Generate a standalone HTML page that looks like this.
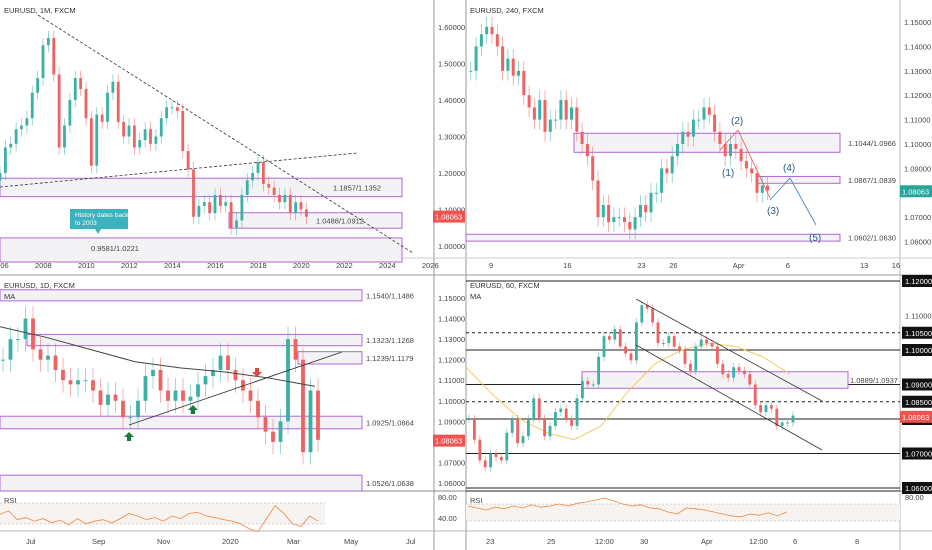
<!DOCTYPE html>
<html><head><meta charset="utf-8"><style>
body{margin:0;background:#fff;}
svg{display:block;font-family:"Liberation Sans",sans-serif;}
text{font-size:7.5px;fill:#444;}
</style></head><body>
<svg id="c" width="932" height="550" viewBox="0 0 932 550">
<rect width="932" height="550" fill="#fff"/>
<g id="frame">
<line x1="0" y1="275" x2="932" y2="275" stroke="#999" stroke-width="1"/>
<line x1="434" y1="0" x2="434" y2="550" stroke="#999"/>
<line x1="466" y1="0" x2="466" y2="550" stroke="#999"/>
<line x1="900" y1="0" x2="900" y2="550" stroke="#bbb"/>
<line x1="0" y1="258" x2="932" y2="258" stroke="#ccc"/>
<line x1="0" y1="491" x2="932" y2="491" stroke="#888"/>
<line x1="0" y1="531" x2="932" y2="531" stroke="#bbb"/>
</g>
<g id="g"></g>
</svg>
<script>
// ---------- data ----------
const tlYears=[2006,2008,2010,2012,2014,2016,2018,2020,2022,2024,2026];
const tlTicks=[1.6,1.5,1.4,1.3,1.2,1.1,1.0];
const tlCloses=[1.18,1.20,1.27,1.28,1.32,1.33,1.35,1.42,1.46,1.55,1.57,1.47,1.27,1.33,1.40,1.46,1.43,1.35,1.22,1.36,1.34,1.42,1.45,1.34,1.30,1.33,1.27,1.29,1.32,1.28,1.30,1.35,1.38,1.38,1.37,1.26,1.21,1.08,1.11,1.12,1.09,1.14,1.11,1.12,1.05,1.07,1.14,1.18,1.20,1.23,1.17,1.16,1.14,1.12,1.14,1.09,1.12,1.10,1.08];
const trDays=[9,16,23,26,32,37,44,47];
const trDayLabels=["9","16","23","26","Apr","6","13","16"];
const trTicks=[1.15,1.14,1.13,1.12,1.11,1.10,1.09,1.08,1.07,1.06];
const trCloses=[1.13,1.14,1.145,1.148,1.145,1.14,1.13,1.135,1.128,1.13,1.12,1.115,1.11,1.118,1.105,1.11,1.11,1.118,1.11,1.115,1.105,1.10,1.095,1.085,1.07,1.075,1.068,1.07,1.07,1.068,1.065,1.07,1.075,1.072,1.08,1.08,1.09,1.088,1.095,1.10,1.105,1.103,1.11,1.11,1.115,1.112,1.105,1.10,1.095,1.10,1.098,1.093,1.09,1.088,1.08,1.083,1.081];
const blMonthX=[32,98,163,228,293,350,412];
const blMonths=["Jul","Sep","Nov","2020","Mar","May","Jul"];
const blTicks=[1.15,1.14,1.13,1.12,1.11,1.10,1.09,1.07,1.06];
const blCloses=[1.12,1.13,1.13,1.14,1.125,1.12,1.122,1.115,1.11,1.108,1.11,1.11,1.105,1.098,1.103,1.10,1.092,1.092,1.10,1.112,1.115,1.105,1.10,1.105,1.10,1.102,1.108,1.112,1.115,1.122,1.115,1.11,1.105,1.10,1.092,1.085,1.08,1.09,1.13,1.12,1.075,1.105,1.081];
const blMA=[1.136,1.131,1.125,1.119,1.116,1.114,1.111,1.107];
const blRsi=[58,65,48,52,45,50,42,47,38,50,40,45,48,42,50,60,55,48,52,45,55,50,60,62,55,52,48,45,40,30,25,50,75,60,40,35,55,45];
const brLabels=["23","25","12:00","30","Apr","12:00","6","8"];
const brLabelX=[491,552,600,645,706,754,798,860];
const brTicks=[1.11];
const brLevels=[1.12,1.10,1.09,1.08,1.07,1.06];
const brDashed=[1.105,1.085];
const brCloses=[1.080,1.074,1.068,1.066,1.070,1.069,1.068,1.076,1.080,1.073,1.075,1.080,1.086,1.080,1.075,1.078,1.082,1.083,1.080,1.078,1.086,1.091,1.090,1.090,1.098,1.104,1.103,1.106,1.101,1.099,1.097,1.108,1.113,1.112,1.108,1.102,1.102,1.104,1.101,1.100,1.096,1.094,1.101,1.103,1.102,1.101,1.096,1.093,1.092,1.095,1.094,1.093,1.090,1.084,1.082,1.084,1.083,1.078,1.079,1.079,1.081];
const brMA=[1.095,1.087,1.080,1.076,1.074,1.078,1.088,1.096,1.100,1.102,1.101,1.098,1.093];
const brRsi=[55,50,45,52,48,55,50,58,52,55,60,55,62,65,70,75,68,60,55,58,50,48,40,35,50,48,45,40,35,30,28,35,32,38,30,40];

// ---------- helpers ----------
const NS="http://www.w3.org/2000/svg";
const G=document.getElementById('g');
function el(t,a,p){const e=document.createElementNS(NS,t);for(const k in a)e.setAttribute(k,a[k]);(p||G).appendChild(e);return e;}
function txt(x,y,s,a){const e=el('text',Object.assign({x:x,y:y},a||{}));e.textContent=s;return e;}
function candles(name,closes,xf,yf,w,wick){
  const g=el('g',{});
  
  
  let prev=closes[0];
  closes.forEach((c,i)=>{
    const o=prev,x=xf(i),up=c>=o,col=up?'#3cb0a4':'#ee6262';
    const hi=Math.max(o,c)+wick,lo=Math.min(o,c)-wick;
    const l=el('line',{x1:x,x2:x,y1:yf(hi),y2:yf(lo),stroke:col,'stroke-width':0.7,'stroke-opacity':0.7},g);
    
    
    const y1=yf(Math.max(o,c)),y2=yf(Math.min(o,c));
    const r=el('rect',{x:x-w/2,y:y1,width:w,height:Math.max(1,y2-y1),fill:col},g);
    
    
    prev=c;
  });
}
function poly(name,vals,xf,yf,stroke,sw,dash){
  const p=el('polyline',{points:vals.map((v,i)=>xf(i)+','+yf(v)).join(' '),fill:'none',stroke:stroke,'stroke-width':sw||1});
  if(dash)p.setAttribute('stroke-dasharray',dash);
  
  
}
function box(name,x,y1,x2,y2,label,lx){
  const r=el('rect',{x:x,y:Math.min(y1,y2),width:x2-x,height:Math.abs(y2-y1),fill:'#f3f3f6',stroke:'#b266d6','stroke-width':1});
  
  
  if(label){const t=txt(lx,(y1+y2)/2+3,label);}
}
function tag(y,s,bg,x){
  const r=el('rect',{x:x,y:y-6,width:32,height:12,fill:bg});
  
  
  const t=txt(x+2,y+3,s,{style:'fill:#fff;font-size:7.5px'});
  
  
}
function line(name,x1,y1,x2,y2,stroke,sw,dash){
  const l=el('line',{x1:x1,y1:y1,x2:x2,y2:y2,stroke:stroke,'stroke-width':sw||1});
  if(dash)l.setAttribute('stroke-dasharray',dash);
  
  
}

// ---------- TL monthly ----------
const tlY=p=>27+(1.6-p)*365;
const tlXyr=yr=>43+(yr-2008)*21.5;
box('zone-1185',0,tlY(1.1857),402,tlY(1.1352),'1.1857/1.1352',333);
box('zone-1049',229,tlY(1.0912),402,tlY(1.0488),'1.0488/1.0912',316);
box('zone-0958',0,tlY(1.0221),402,262,null);
txt(91,251,'0.9581/1.0221');
candles('tl-candles',tlCloses,i=>tlXyr(2005.75+i*0.25),tlY,2.8,0.02);
line('tl-downtrend',38,15,413,253,'#333',0.8,'3,2');
line('tl-uptrend',0,187,357,153,'#333',0.8,'3,2');
tlYears.forEach(y=>{const t=txt(tlXyr(y)-8,268,String(y));});
tlTicks.forEach(p=>{const t=txt(438,tlY(p)+3,p.toFixed(5));});
tag(tlY(1.08063),'1.08063','#ef5350',433);
{const c=el('path',{d:'M70,209 h58 v20 h-27 l-3,5 l-3,-5 h-25 z',fill:'#3bb3bd'});
txt(75,217,'History dates back',{style:'fill:#fff;font-size:6.5px'});txt(75,225,'to 2003',{style:'fill:#fff;font-size:6.5px'});}
txt(4,13,'EURUSD, 1M, FXCM',{style:'font-size:7.5px;fill:#333'});

// ---------- TR 240 ----------
const trY=p=>22+(1.15-p)*2440;
const trX=d=>492+(d-9)*10.6;
box('zone-1104',574,trY(1.1044),840,trY(1.0966),'1.1044/1.0966',848);
box('zone-1087',757,trY(1.0867),840,trY(1.0839),'1.0867/1.0839',848);
box('zone-1060',466,trY(1.0630),840,trY(1.0602),'1.0602/1.0630',848);
candles('tr-candles',trCloses,i=>trX(7+i*0.5),trY,3,0.004);
line('wave-red-1',720,150,738,130,'#ef5350',0.8);
line('wave-red-2',738,130,770,198,'#ef5350',0.8);
line('wave-blue-1',770,200,790,178,'#3a7fc1',0.8);
line('wave-blue-2',790,178,816,225,'#3a7fc1',0.8);
[['(2)',731,124],['(1)',722,176],['(3)',767,214],['(4)',783,171],['(5)',809,241]].forEach(a=>{const t=txt(a[1],a[2],a[0],{style:'font-size:10px;fill:#2a5c8a'});});
trDays.forEach((d,i)=>{const t=txt(trX(d)-3,268,trDayLabels[i]);});
trTicks.forEach(p=>{const t=txt(904,trY(p)+3,p.toFixed(5));});
tag(trY(1.08063),'1.08063','#26a69a',900);
txt(470,13,'EURUSD, 240, FXCM',{style:'font-size:7.5px;fill:#333'});

// ---------- BL daily ----------
const blY=p=>298+(1.15-p)*2056;
const blX=i=>3+i*7.5;
box('zone-1154',0,blY(1.1540),362,blY(1.1486),'1.1540/1.1486',366);
box('zone-1132',27,blY(1.1323),362,blY(1.1268),'1.1323/1.1268',366);
box('zone-1124',298,blY(1.1239),362,blY(1.1179),'1.1239/1.1179',366);
box('zone-1093',0,blY(1.0925),362,blY(1.0864),'1.0925/1.0864',366);
box('zone-1053',0,blY(1.0638),362,491,'1.0526/1.0638',366);
candles('bl-candles',blCloses,blX,blY,3.8,0.006);
poly('bl-ma',blMA,i=>i*6*7.5,blY,'#444',1);
line('bl-trendline',129,425,342,352,'#333',0.9);
[[129,437,'#1e7a3c',1],[193,410,'#1e7a3c',1],[257,372,'#e0483c',-1]].forEach(a=>{const d=a[3]>0?`M${a[0]},${a[1]-5} l5,5 h-3 v4 h-4 v-4 h-3 z`:`M${a[0]},${a[1]+5} l5,-5 h-3 v-4 h-4 v4 h-3 z`;const p=el('path',{d:d,fill:a[2]});});
blMonths.forEach((m,i)=>{const t=txt(blMonthX[i]-6,544,m);});
blTicks.forEach(p=>{const t=txt(438,blY(p)+3,p.toFixed(5));});
tag(blY(1.08063),'1.08063','#ef5350',433);
txt(4,288,'EURUSD, 1D, FXCM',{style:'font-size:7.5px;fill:#333'});
txt(4,299,'MA',{style:'font-size:7.5px;fill:#333'});
{const r=el('rect',{x:0,y:503,width:325,height:21,fill:'#f6f3f0'});}
line('bl-rsi-80',0,503,325,503,'#aaa',0.6,'2,2');line('bl-rsi-40',0,524,325,524,'#aaa',0.6,'2,2');
const blR=v=>497+(80-v)*0.52;
poly('bl-rsi',blRsi,i=>i*8.6,v=>blR(v)+6,'#f0883e',0.8);
txt(4,503,'RSI');txt(438,500,'80.00');txt(438,521,'40.00');

// ---------- BR 60 ----------
const brY=p=>281+(1.12-p)*3450;
const brX=i=>469+i*5.4;
brLevels.forEach(p=>line('br-level',466,brY(p),900,brY(p),'#222',1.1));
line('br-level-1060b',466,brY(1.06)+3,900,brY(1.06)+3,'#222',1);
brDashed.forEach(p=>line('br-dashed-level',466,brY(p),900,brY(p),'#222',0.9,'3,3'));
box('zone-1089',582,brY(1.0937),848,brY(1.0889),'1.0889/1.0937',850);
poly('br-ma',brMA,i=>466+i*27,brY,'#f0c850',0.9);
candles('br-candles',brCloses,brX,brY,2.8,0.0012);
line('channel-upper',636,299,822,401,'#333',0.8);
line('channel-lower',636,345,822,450,'#333',0.8);
brLevels.concat(brDashed).forEach(p=>{const r=el('rect',{x:902,y:brY(p)-6,width:30,height:12,fill:'#111'});txt(905,brY(p)+3,p.toFixed(5),{style:'fill:#fff;font-size:7.5px'});});
brTicks.forEach(p=>{const t=txt(905,brY(p)+3,p.toFixed(5));});
tag(brY(1.08063),'1.08063','#ef5350',900);
brLabels.forEach((l,i)=>{const t=txt(brLabelX[i]-5,544,l);});
txt(470,288,'EURUSD, 60, FXCM',{style:'font-size:7.5px;fill:#333'});
txt(470,299,'MA',{style:'font-size:7.5px;fill:#333'});
{const r=el('rect',{x:466,y:504,width:434,height:17,fill:'#f6f3f0'});}
line('br-rsi-80',466,504,900,504,'#aaa',0.6,'2,2');line('br-rsi-20',466,521,900,521,'#aaa',0.6,'2,2');
poly('br-rsi',brRsi,i=>468+i*9.1,v=>528-v*0.4,'#f0883e',0.8);
txt(470,503,'RSI');txt(905,500,'80.00');
</script>
</body></html>
